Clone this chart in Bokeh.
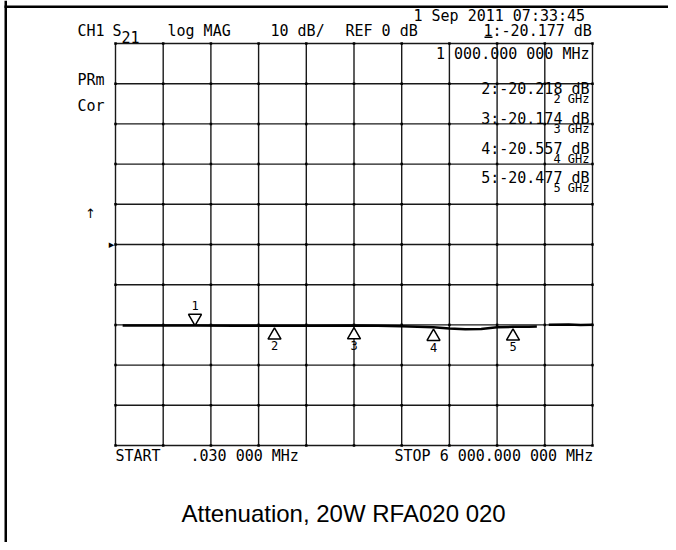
from bokeh.plotting import figure
from bokeh.models import Label, Range1d, BoxAnnotation
from bokeh.core.properties import value
from bokeh.embed import file_html
from bokeh.resources import INLINE

# ---------------- data ----------------
start_ghz = 0.00003          # START .030 000 MHz
stop_ghz = 6.0               # STOP 6 000.000 000 MHz
ref_db = 0.0                 # REF 0 dB (centre line)
scale_db = 10.0              # 10 dB/div

trace_freq_ghz = [0.09, 0.5, 1.0, 1.5, 2.0, 2.5, 3.0, 3.3, 3.6, 3.9, 4.0, 4.2, 4.4,
                  4.6, 4.8, 5.0, 5.2, 5.3, float("nan"), 5.45, 5.7, 5.85, 6.0]
trace_db = [-20.15, -20.17, -20.177, -20.2, -20.218, -20.2, -20.174, -20.2, -20.35,
            -20.5, -20.557, -20.9, -21.1, -21.0, -20.6, -20.477, -20.45, -20.4,
            float("nan"), -19.95, -19.9, -20.0, -19.95]

marker_ids = ["1", "2", "3", "4", "5"]
marker_freq_ghz = [1.0, 2.0, 3.0, 4.0, 5.0]
marker_db = [-20.177, -20.218, -20.174, -20.557, -20.477]

date_text = "1 Sep 2011  07:33:45"
header_parts = ["CH1", "S", "21", "log MAG", "10 dB/", "REF 0 dB"]
left_labels = ["PRm", "Cor"]
start_label = "START"
start_value = ".030 000 MHz"
stop_label = "STOP 6 000.000 000 MHz"
title_text = "Attenuation, 20W RFA020 020"

# ---------------- layout ----------------
W, H = 668, 542
GL, GT, GW, GH = 115, 43, 477, 402      # graticule in pixels
GB = GT + GH
MONO = "DejaVu Sans Mono"

span = stop_ghz - start_ghz
px_per_ghz = GW / span
top_db = ref_db + 5 * scale_db
bot_db = ref_db - 5 * scale_db
px_per_db = GH / (top_db - bot_db)

p = figure(width=W, height=H, output_backend="svg", toolbar_location=None,
           x_range=Range1d(start_ghz - GL / px_per_ghz, start_ghz + (W - GL) / px_per_ghz),
           y_range=Range1d(bot_db - (H - GB) / px_per_db, top_db + GT / px_per_db),
           x_axis_location=None, y_axis_location=None, title=None,
           min_border=0, min_border_left=0, min_border_right=0,
           min_border_top=0, min_border_bottom=0)
p.outline_line_color = None
p.background_fill_color = "white"
p.border_fill_color = "white"
p.xgrid.visible = False
p.ygrid.visible = False

# graticule (10 x 10 divisions)
xt = [start_ghz + k * span / 10 for k in range(11)]
yt = [bot_db + k * scale_db for k in range(11)]
p.segment(x0=xt, y0=[bot_db] * 11, x1=xt, y1=[top_db] * 11,
          line_color="black", line_width=1.4, line_alpha=0.9)
p.segment(x0=[start_ghz] * 11, y0=yt, x1=[stop_ghz] * 11, y1=yt,
          line_color="black", line_width=1.4, line_alpha=0.9)
# small dots at the graticule intersections
ix = [x for x in xt for _ in yt]
iy = [y for _ in xt for y in yt]
p.scatter(ix, iy, marker="square", size=2.5, fill_color="black", line_color=None)

# trace
p.line(trace_freq_ghz, trace_db, line_color="black", line_width=2.5)

# marker triangles
tri_y = [d + 7.5 / px_per_db if i == 0 else d - 9.5 / px_per_db for i, d in enumerate(marker_db)]
tri_kind = ["inverted_triangle" if i == 0 else "triangle" for i in range(len(marker_ids))]
p.scatter(marker_freq_ghz, tri_y, marker=tri_kind, size=13, fill_color="white",
          line_color="black", line_width=1.5)
p.text(marker_freq_ghz, marker_db, text=marker_ids,
       y_offset=[-20 if i == 0 else 20 for i in range(len(marker_ids))],
       text_align="center", text_baseline="middle", text_color="black",
       text_font=value(MONO), text_font_size="12px")


def lab(text, px, py, size="15px", font=MONO, align="left"):
    p.add_layout(Label(x=px, y=H - py, x_units="screen", y_units="screen",
                       text=text, text_font=font, text_font_size=size,
                       text_align=align, text_baseline="middle", text_color="black"))


def bar(x0, x1, y0, y1):
    p.add_layout(BoxAnnotation(left=x0, right=x1, top=H - y0, bottom=H - y1,
                               left_units="screen", right_units="screen",
                               top_units="screen", bottom_units="screen",
                               fill_color="black", fill_alpha=1, line_color=None))


# header
lab(date_text, 413, 15)
lab(header_parts[0], 77, 30)
lab(header_parts[1], 112, 30)
lab(header_parts[2], 121, 36)
lab(header_parts[3], 167, 30)
lab(header_parts[4], 270, 30)
lab(header_parts[5], 345, 30)
lab(f"{marker_ids[0]}:{marker_db[0]:.3f} dB", 483, 30)
bar(484, 492, 36, 37.5)  # active-marker underline

# left labels
lab(left_labels[0], 77, 79)
lab(left_labels[1], 77, 105)
lab("\u2191", 90, 213, size="13px", font="DejaVu Sans", align="center")
lab("\u25B8", 111, 244, size="11px", font="DejaVu Sans", align="center")

# marker table
lab(f"{int(marker_freq_ghz[0] * 1000):,}.000 000 MHz".replace(",", " "), 589, 53, align="right")
row_y = [88, 118, 148, 177]
for k in range(1, len(marker_ids)):
    lab(f"{marker_ids[k]}:{marker_db[k]:.3f} dB", 589, row_y[k - 1], align="right")
    lab(f"{int(marker_freq_ghz[k])} GHz", 589, row_y[k - 1] + 10, size="12px", align="right")

# bottom
lab(start_label, 115, 455)
lab(start_value, 190, 455)
lab(stop_label, 394, 455)
lab(title_text, 181, 513, size="24px", font="Liberation Sans")

# page border lines (left and top)
bar(4, 6.5, 0, H)
bar(4, W, 5, 7.5)

open("out.html", "w").write(file_html(p, INLINE))
